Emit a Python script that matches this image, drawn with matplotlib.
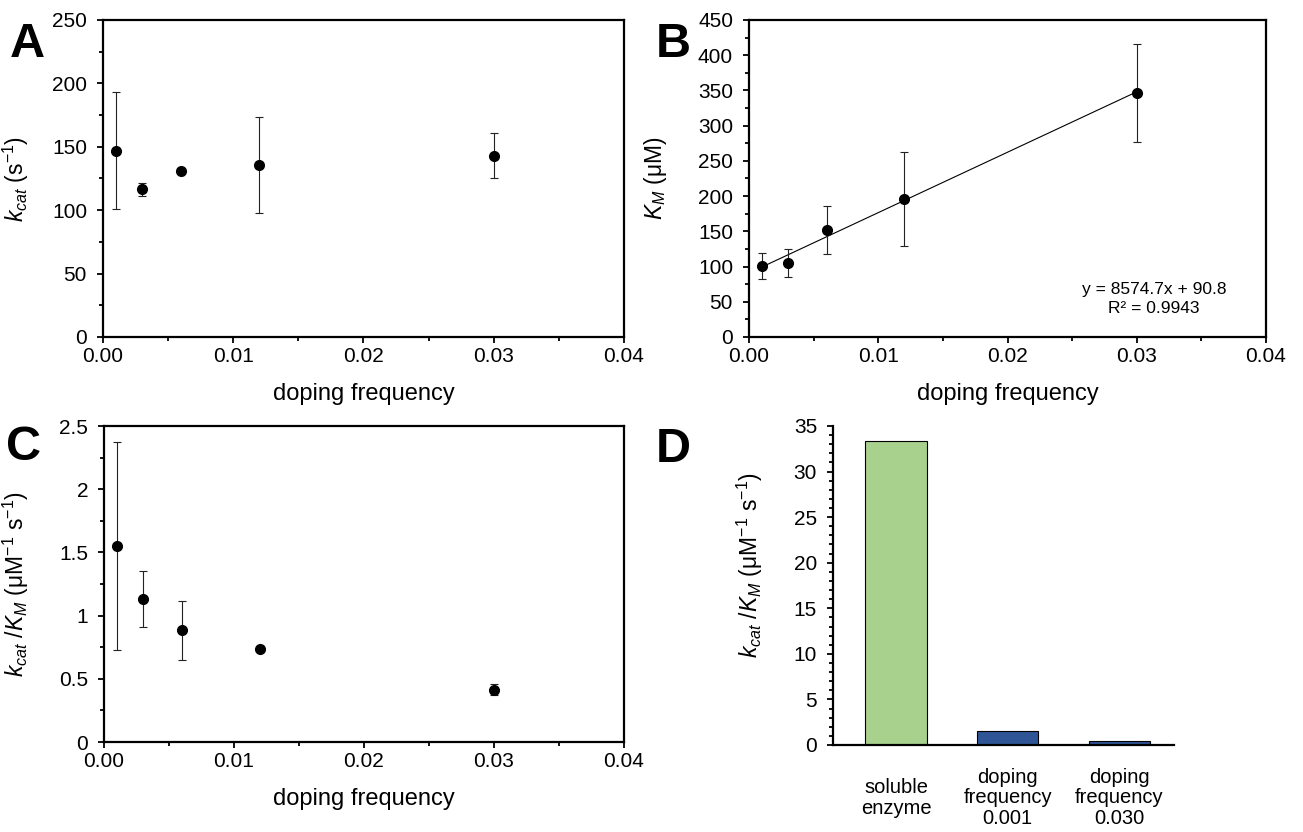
import matplotlib
matplotlib.use("Agg")
import matplotlib.pyplot as plt
from matplotlib.ticker import MultipleLocator, FuncFormatter

plt.rcParams['font.family'] = ['Liberation Sans', 'DejaVu Sans']
plt.rcParams['mathtext.fontset'] = 'custom'
plt.rcParams['mathtext.rm'] = 'Liberation Sans'
plt.rcParams['mathtext.it'] = 'Liberation Sans:italic'
plt.rcParams['mathtext.bf'] = 'Liberation Sans:bold'

# data
doping = [0.001, 0.003, 0.006, 0.012, 0.030]

kcat = [147, 116.5, 131, 135.5, 143]
kcat_err = [46, 5, 2, 38, 18]

km = [100.5, 105, 152, 195.5, 346.5]
km_err = [18.5, 20, 34, 67, 70]
fit_slope = 8574.7
fit_icpt = 90.8
fit_r2 = 0.9943

eff = [1.55, 1.13, 0.885, 0.735, 0.415]
eff_err = [0.825, 0.22, 0.233, 0.01, 0.045]

bar_labels = ["soluble\nenzyme", "doping\nfrequency\n0.001", "doping\nfrequency\n0.030"]
bar_vals = [33.4, 1.55, 0.415]
bar_colors = ["#a9d18e", "#2f5597", "#2f5597"]

W, H = 1303, 832
fig = plt.figure(figsize=(W / 100, H / 100), dpi=100)


def px_axes(l, t, r, b):
    return fig.add_axes([l / W, 1 - b / H, (r - l) / W, (b - t) / H])


def style_box(ax):
    for s in ax.spines.values():
        s.set_linewidth(1.6)
    ax.tick_params(which='both', direction='out', width=1.3,
                   labelsize=15, top=False, right=False)
    ax.tick_params(which='major', length=4.5)
    ax.tick_params(which='minor', length=3)
    ax.tick_params(axis='x', which='both', pad=3)
    ax.tick_params(axis='y', which='both', pad=7)


def scatter_panel(ax, y, yerr, ylim, ymajor, yminor, yfmt):
    ax.errorbar(doping, y, yerr=yerr, fmt='o', color='black', ms=7,
                ecolor='#222222', elinewidth=0.8, capsize=2.8, capthick=0.8, zorder=3)
    ax.set_xlim(0, 0.04)
    ax.set_ylim(*ylim)
    ax.xaxis.set_major_locator(MultipleLocator(0.01))
    ax.xaxis.set_minor_locator(MultipleLocator(0.005))
    ax.xaxis.set_major_formatter(FuncFormatter(lambda v, p: "%.2f" % v))
    ax.yaxis.set_major_locator(MultipleLocator(ymajor))
    ax.yaxis.set_minor_locator(MultipleLocator(yminor))
    ax.yaxis.set_major_formatter(FuncFormatter(yfmt))
    ax.set_xlabel("doping frequency", fontsize=17)
    ax.xaxis.set_label_coords(0.5, -0.145)
    ax.xaxis.label.set_va('top')
    style_box(ax)


# Panel A
axA = px_axes(103, 20, 624, 337)
scatter_panel(axA, kcat, kcat_err, (0, 250), 50, 25, lambda v, p: "%d" % v)
axA.set_ylabel(r"$k_{cat}$ (s$^{-1}$)", fontsize=16.5)
axA.yaxis.set_label_coords(-0.138, 0.5)

# Panel B
axB = px_axes(749, 20, 1266, 337)
scatter_panel(axB, km, km_err, (0, 450), 50, 25, lambda v, p: "%d" % v)
fx = [doping[0], doping[-1]]
axB.plot(fx, [fit_slope * v + fit_icpt for v in fx], color='black', lw=0.8, zorder=2)
axB.text(0.783, 0.12, "y = %.1fx + %.1f\nR² = %.4f" % (fit_slope, fit_icpt, fit_r2),
         transform=axB.transAxes, ha='center', va='center', fontsize=12.5,
         multialignment='center', linespacing=1.3)
axB.set_ylabel(r"$K_M$ (μM)", fontsize=16.5)
axB.yaxis.set_label_coords(-0.155, 0.5)

# Panel C
axC = px_axes(104, 426, 624, 742)
scatter_panel(axC, eff, eff_err, (0, 2.5), 0.5, 0.25, lambda v, p: "%g" % v)
axC.set_ylabel(r"$k_{cat}$ /$K_M$ (μM$^{-1}$ s$^{-1}$)", fontsize=16.5)
axC.yaxis.set_label_coords(-0.14, 0.5)

# Panel D
axD = px_axes(833, 426, 1174, 745)
xs = range(len(bar_vals))
axD.bar(xs, bar_vals, width=0.55, color=bar_colors, edgecolor='black', linewidth=0.8, zorder=2)
axD.set_xlim(-0.565, 2.49)
axD.set_ylim(0, 35)
axD.yaxis.set_major_locator(MultipleLocator(5))
axD.yaxis.set_minor_locator(MultipleLocator(1))
axD.spines['top'].set_visible(False)
axD.spines['right'].set_visible(False)
for s in ['left', 'bottom']:
    axD.spines[s].set_linewidth(1.6)
axD.tick_params(axis='y', which='both', direction='out', width=1.3,
                labelsize=15, pad=7)
axD.tick_params(axis='y', which='major', length=4.5)
axD.tick_params(axis='y', which='minor', length=3)
axD.set_xticks(list(xs))
axD.set_xticklabels(bar_labels, fontsize=14.5, va='center', linespacing=1.1)
axD.tick_params(axis='x', length=0, pad=38)
axD.set_ylabel(r"$k_{cat}$ /$K_M$ (μM$^{-1}$ s$^{-1}$)", fontsize=16.5)
axD.yaxis.set_label_coords(-0.2, 0.564)

# panel letters
for lab, x, y in [("A", 10, 57), ("B", 656, 57), ("C", 6, 460), ("D", 656, 462)]:
    fig.text(x / W, 1 - y / H, lab, fontsize=35, fontweight='bold',
             ha='left', va='baseline')

fig.savefig("out.png", dpi=100)
